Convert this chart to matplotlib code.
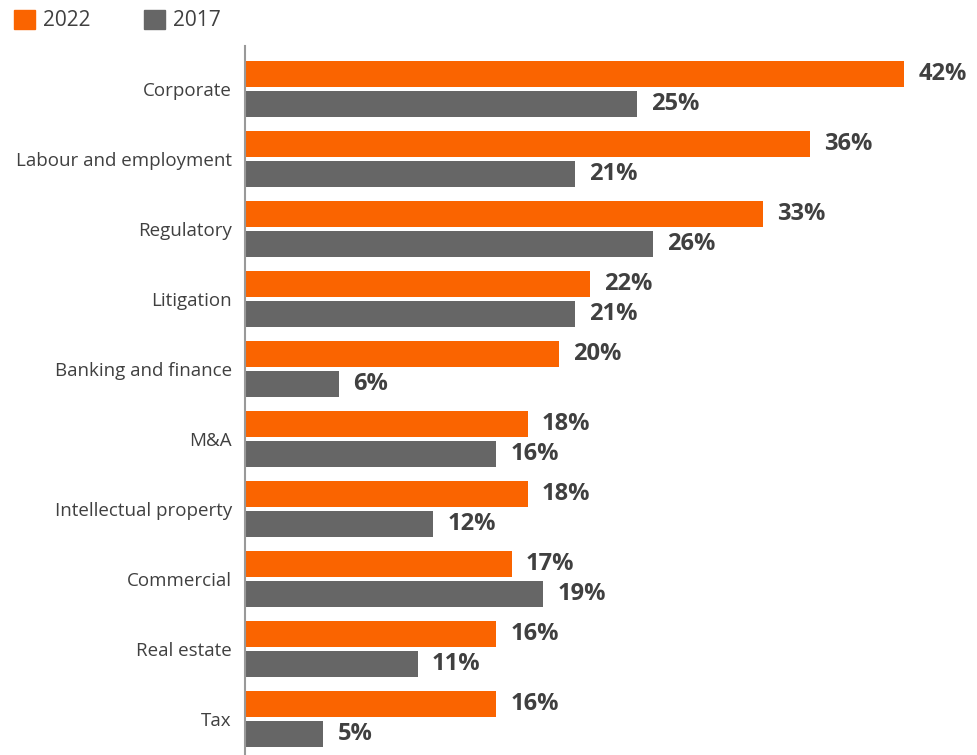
import matplotlib
matplotlib.use("Agg")
import matplotlib.pyplot as plt
from matplotlib.patches import Patch
import numpy as np

plt.rcParams['font.family'] = ['Open Sans', 'DejaVu Sans']

# Share of respondents by practice area
areas = ['Corporate', 'Labour and employment', 'Regulatory', 'Litigation',
         'Banking and finance', 'M&A', 'Intellectual property', 'Commercial',
         'Real estate', 'Tax']
vals_2022 = [42, 36, 33, 22, 20, 18, 18, 17, 16, 16]
vals_2017 = [25, 21, 26, 21, 6, 16, 12, 19, 11, 5]

orange = '#FA6400'
grey = '#666666'
text_col = '#404040'

fig = plt.figure(figsize=(9.78, 7.55), dpi=100)
ax = fig.add_axes([245 / 978, 0, 1 - 245 / 978, 709 / 755])

y = np.arange(len(areas))
h = 0.371
off = 0.214
b1 = ax.barh(y - off, vals_2022, height=h, color=orange, label='2022')
b2 = ax.barh(y + off, vals_2017, height=h, color=grey, label='2017')

for bars in (b1, b2):
    for rect in bars:
        w = rect.get_width()
        ax.annotate(f'{w:.0f}%', (w, rect.get_y() + rect.get_height() / 2),
                    xytext=(14, 0), textcoords='offset pixels',
                    va='center', ha='left', fontsize=17, fontweight='bold',
                    color=text_col)

ax.set_yticks(y)
ax.set_yticklabels(areas, fontsize=13.5, color=text_col)
ax.tick_params(axis='y', length=0, pad=9.5)
ax.set_xticks([])
ax.set_xlim(0, 46.7)
ax.set_ylim(9.514, -0.614)

for s in ('top', 'right', 'bottom'):
    ax.spines[s].set_visible(False)
ax.spines['left'].set_color('#999999')
ax.spines['left'].set_linewidth(1.5)

handles = [Patch(color=orange, label='2022'), Patch(color=grey, label='2017')]
leg = fig.legend(handles=handles, loc='upper left',
                 bbox_to_anchor=(14 / 978, 1 - 10 / 755),
                 ncol=2, frameon=False, fontsize=15, handlelength=1.0,
                 handleheight=1.0, handletextpad=0.4, columnspacing=2.55,
                 borderpad=0, borderaxespad=0, labelcolor=text_col)

fig.savefig('out.png', dpi=100)
